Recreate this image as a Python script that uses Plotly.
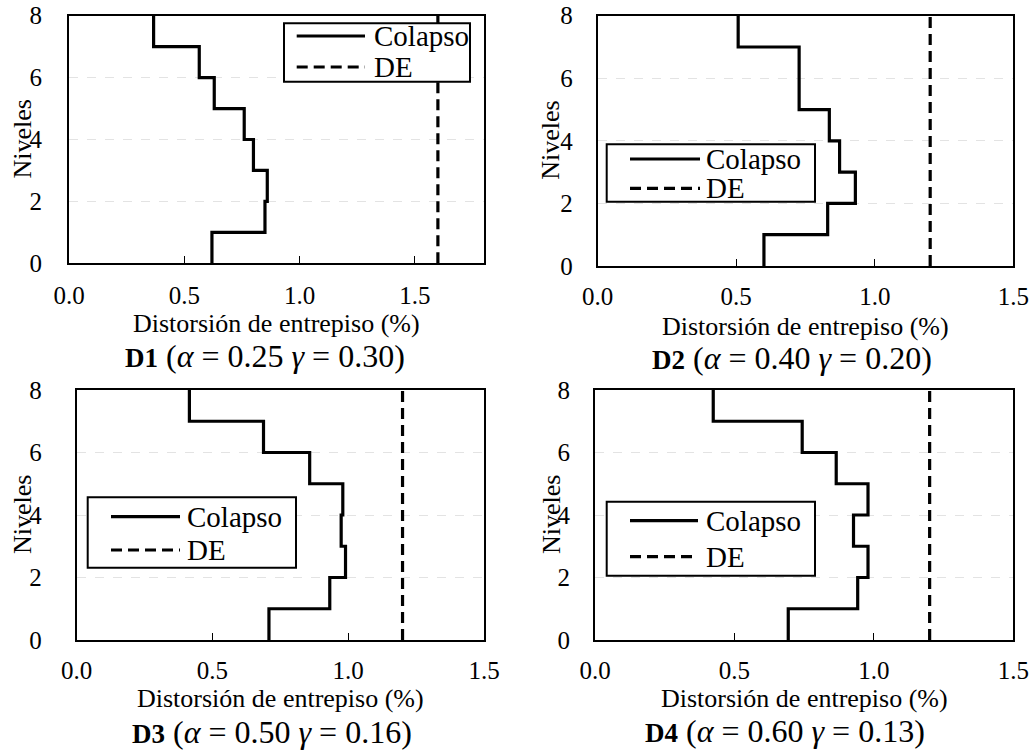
import plotly.graph_objects as go

W, H = 1031, 750

levels = [0, 1, 2, 3, 4, 5, 6, 7, 8]
panel_names = ["D1", "D2", "D3", "D4"]
alphas = ["0.25", "0.40", "0.50", "0.60"]
gammas = ["0.30", "0.20", "0.16", "0.13"]
colapso_d1 = [0.62, 0.85, 0.86, 0.80, 0.76, 0.63, 0.565, 0.367]
colapso_d2 = [0.60, 0.83, 0.93, 0.873, 0.836, 0.727, 0.727, 0.507]
colapso_d3 = [0.708, 0.932, 0.99, 0.974, 0.98, 0.858, 0.688, 0.415]
colapso_d4 = [0.693, 0.942, 0.979, 0.927, 0.979, 0.865, 0.743, 0.424]
de_values = [1.6, 1.2, 1.2, 1.2]
x_max = [1.8, 1.5, 1.5, 1.5]
x_ticks = [0.0, 0.5, 1.0, 1.5]
y_ticks = [0, 2, 4, 6, 8]
series_names = ["Colapso", "DE"]

colapso = [colapso_d1, colapso_d2, colapso_d3, colapso_d4]

# plot areas in pixels (left, right, top, bottom)
areas = [(69, 484, 15.7, 263.3), (597.7, 1013.3, 15.7, 266),
         (76.7, 484, 390, 640), (595, 1013.3, 390, 640)]
# legend boxes (left, right, top, bottom), sample line x-range, row y's, text x
leg_box = [(284, 470, 23.3, 81.7), (606.7, 815, 144.3, 201.7),
           (87.7, 296, 497.3, 567.7), (606.7, 815, 501.7, 575.7)]
leg_line = [(296.7, 365), (630, 700), (111, 180), (630, 698)]
leg_rows = [(36, 67), (159, 188.3), (516.7, 550), (520.7, 556.7)]
leg_text_x = [372, 704, 185, 704]
ylab_std = [20, 18, 28, 18]
xlab_std = [9, 7, 7, 7]
ytitle_x = [22, 551, 22, 551]
sub_x = [265, 792, 272, 785]
title_y = [323, 326, 698, 698]
sub_y = [356, 358, 732, 731]

FONT = "Liberation Serif, Times New Roman, serif"
LW = 3.2
DASH = "11px,6px"
fig = go.Figure()
annotations = []
shapes = []


def px(x):
    return x / W


def py(y):
    return 1 - y / H


for i in range(4):
    sfx = "" if i == 0 else str(i + 1)
    xa, ya = "x" + sfx, "y" + sfx
    vals = colapso[i]
    xs = [v for v in vals for _ in (0, 1)]
    ys = [lv for k in range(len(vals)) for lv in (levels[k], levels[k + 1])]
    fig.add_trace(go.Scatter(x=xs, y=ys, mode="lines", name=series_names[0],
                             line=dict(color="black", width=LW),
                             xaxis=xa, yaxis=ya, showlegend=False))
    fig.add_trace(go.Scatter(x=[de_values[i], de_values[i]], y=[levels[0], levels[-1]],
                             mode="lines", name=series_names[1],
                             line=dict(color="black", width=LW, dash=DASH),
                             xaxis=xa, yaxis=ya, showlegend=False))
    l, r, t, b = areas[i]
    axis_common = dict(showline=True, linecolor="black", linewidth=2, mirror=True,
                       zeroline=False, automargin=False)
    fig.layout["xaxis" + sfx] = dict(
        domain=[px(l), px(r)], anchor=ya, range=[0, x_max[i]],
        tickvals=x_ticks, ticktext=["%.1f" % v for v in x_ticks],
        ticks="inside", ticklen=7, tickwidth=1, tickcolor="black",
        showgrid=False, tickfont=dict(family=FONT, size=25, color="black"),
        ticklabelstandoff=xlab_std[i], **axis_common)
    fig.layout["yaxis" + sfx] = dict(
        domain=[py(b), py(t)], anchor=xa, range=[0, 8],
        tickvals=y_ticks, ticks="", showgrid=True, gridcolor="#e3e3e3",
        griddash="dash", gridwidth=1,
        tickfont=dict(family=FONT, size=25, color="black"),
        ticklabelstandoff=ylab_std[i], **axis_common)

    # legend box
    bl, br, bt, bb = leg_box[i]
    shapes.append(dict(type="rect", xref="paper", yref="paper",
                       x0=px(bl), x1=px(br), y0=py(bb), y1=py(bt),
                       line=dict(color="black", width=2), fillcolor="white", layer="above"))
    lx0, lx1 = leg_line[i]
    for k, dash in enumerate(["solid", DASH]):
        yy = leg_rows[i][k]
        shapes.append(dict(type="line", xref="paper", yref="paper",
                           x0=px(lx0), x1=px(lx1), y0=py(yy), y1=py(yy),
                           line=dict(color="black", width=LW, dash=dash), layer="above"))
        annotations.append(dict(text=series_names[k], x=px(leg_text_x[i]), y=py(yy),
                                xref="paper", yref="paper", showarrow=False,
                                xanchor="left", yanchor="middle",
                                font=dict(family=FONT, size=29, color="black")))

    cx = (l + r) / 2
    annotations.append(dict(text="Distorsión de entrepiso (%)", x=px(cx), y=py(title_y[i]),
                            xref="paper", yref="paper", showarrow=False,
                            xanchor="center", yanchor="middle",
                            font=dict(family=FONT, size=26, color="black")))
    annotations.append(dict(text='<span style="font-size:27px"><b>%s</b></span> (<i>α</i> = %s <i>γ</i> = %s)'
                            % (panel_names[i], alphas[i], gammas[i]),
                            x=px(sub_x[i]), y=py(sub_y[i]),
                            xref="paper", yref="paper", showarrow=False,
                            xanchor="center", yanchor="middle",
                            font=dict(family=FONT, size=32, color="black")))
    annotations.append(dict(text="Niveles", x=px(ytitle_x[i]), y=py((t + b) / 2),
                            xref="paper", yref="paper", showarrow=False, textangle=-90,
                            xanchor="center", yanchor="middle",
                            font=dict(family=FONT, size=26, color="black")))

fig.update_layout(width=W, height=H, autosize=False,
                  margin=dict(l=0, r=0, t=0, b=0, pad=0),
                  paper_bgcolor="white", plot_bgcolor="white",
                  annotations=annotations, shapes=shapes, showlegend=False)

fig.write_html("out.html", config={"displayModeBar": False},
               post_script="document.body.style.margin='0';")
